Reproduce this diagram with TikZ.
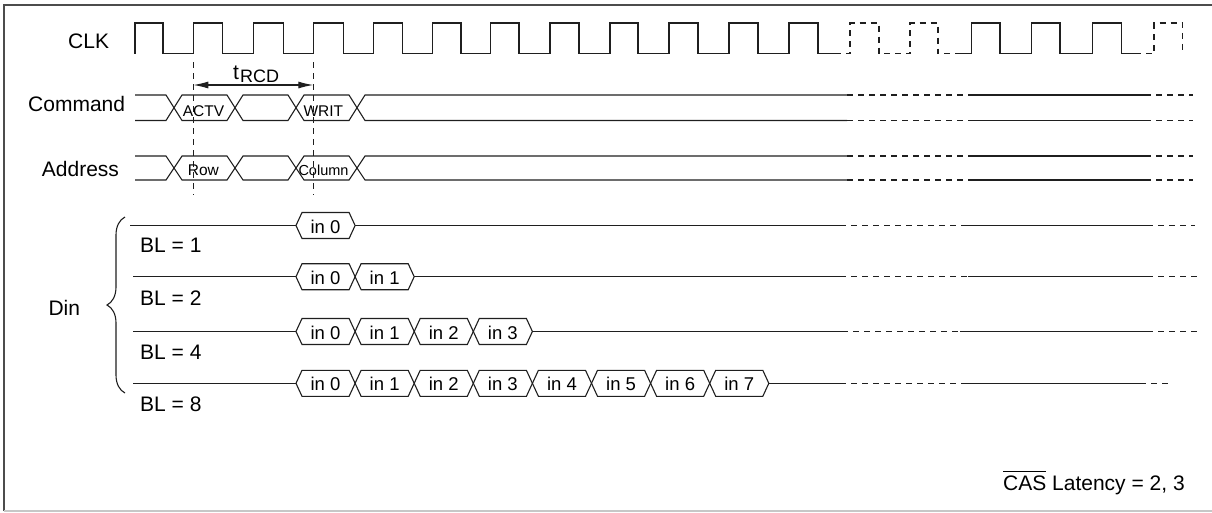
\documentclass[tikz,border=0pt]{standalone}
\usepackage{fontspec}
\setmainfont{Liberation Sans}
\usetikzlibrary{arrows.meta,decorations.pathreplacing}
\newcommand\fsz[1]{\fontsize{#1}{#1}\selectfont}
\newcommand\ovl[1]{\leavevmode\vbox{\hrule height 1.1pt\kern 3.5pt\hbox{#1}}}
\newcommand\tails[5]{%
  \draw[wave] (#2,#1) -- (#3,#1);
  \draw[dsh] (#3,#1) -- (#4,#1);
  \draw[wave] (#4,#1) -- (#5,#1);
}
\newcommand\dinrow[7]{%
  \pgfmathsetmacro\dxe{296+59.1*#3}
  \draw[wave] (#2,#1) -- (296,#1);
  \foreach \k in {1,...,#3} {
    \pgfmathsetmacro\dxa{296+59.1*(\k-1)}
    \pgfmathsetmacro\dxb{\dxa+59.1}
    \pgfmathsetmacro\dxm{\dxa+29.55}
    \pgfmathtruncatemacro\kk{\k-1}
    \draw[wave] (\dxa,#1) -- (\dxa+6,#1-13) -- (\dxb-6,#1-13) -- (\dxb,#1) -- (\dxb-6,#1+13) -- (\dxa+6,#1+13) -- cycle;
    \node[hx] (in#1-\kk) at (\dxm,#1+7.6) {in \kk};
  }
  \draw[wave] (\dxe,#1) -- (#4,#1);
  \draw[dsh] (#4,#1) -- (#5,#1);
  \draw[wave] (#5,#1) -- (#6,#1);
  \draw[dsh] (#6,#1) -- (#7,#1);
}
\begin{document}
\begin{tikzpicture}[x=1pt,y=-1pt,
  wave/.style={line width=1.1pt, black!88, line join=miter},
  dsh/.style={wave, dash pattern=on 6pt off 5pt},
  lbl/.style={inner sep=0pt, anchor=base west, font=\fsz{21}},
  sig/.style={inner sep=0pt, anchor=base west, font=\fsz{15.5}},
  hx/.style={inner sep=0pt, anchor=base, font=\fsz{18.5}}]
\useasboundingbox (0,0) rectangle (1212,512);
% frame
\draw[line width=1.2pt, black!70] (4,511) -- (4,5) -- (1212,5);
\draw[line width=1.2pt, black!22] (4,511) -- (1212,511);

% labels
\node[lbl] (clk) at (68,48.3) {CLK};
\node[lbl] (cmd) at (28,111.7) {Command};
\node[lbl] (addr) at (41.7,176.7) {Address};
\node[lbl] (din) at (48.3,315) {Din};
\node[lbl] (bl1) at (140,252.3) {BL = 1};
\node[lbl] (bl2) at (140,305) {BL = 2};
\node[lbl] (bl4) at (140,359.3) {BL = 4};
\node[lbl] (bl8) at (140,411.7) {BL = 8};
\node[lbl] (cas) at (1003,490) {\ovl{CAS} Latency = 2, 3};

% CLK
\draw[wave] (135,53.5) \foreach \r/\f in {135/163, 193.3/222.7, 253.3/283.3, 313.3/343.3, 373.3/402.7, 432.7/461, 490.7/519, 550/579, 610/638, 669/698, 729/758, 789/818} { -- (\r,53.5) -- (\r,23) -- (\f,23) -- (\f,53.5) } -- (835,53.5);
\draw[dsh] (835,53.5) -- (850,53.5) -- (850,23) -- (879,23) -- (879,53.5) -- (910,53.5) -- (910,23) -- (938,23) -- (938,53.5) -- (958,53.5);
\draw[wave] (958,53.5) \foreach \r/\f in {971.7/1000, 1031.7/1060, 1092.7/1121.7} { -- (\r,53.5) -- (\r,23) -- (\f,23) -- (\f,53.5) } -- (1135,53.5);
\draw[dsh] (1135,53.5) -- (1154,53.5) -- (1154,23) -- (1182.7,23) -- (1182.7,53.5);

% tRCD
\coordinate (ta) at (193.3,85);
\coordinate (tb) at (313.3,85);
\draw[dsh, line width=0.9pt] (193.3,62) -- (193.3,195);
\draw[dsh, line width=0.9pt] (313.3,62) -- (313.3,195);
\draw[wave, {Latex[length=15pt,width=7pt]}-{Latex[length=15pt,width=7pt]}] (ta) -- (tb);
\node[inner sep=0pt, anchor=base west] (trcd) at (233,79) {\fsz{21}t\kern1pt\raisebox{-3pt}{\fsz{18}RCD}};

% Command bus
\foreach \T/\B in {95/120.5, 156/180} {
  \draw[wave] (135,\T) -- (166,\T) -- (182,\B) -- (227,\B) -- (243,\T) -- (288,\T) -- (304,\B) -- (349,\B) -- (365,\T) -- (847,\T);
  \draw[wave] (135,\B) -- (166,\B) -- (182,\T) -- (227,\T) -- (243,\B) -- (288,\B) -- (304,\T) -- (349,\T) -- (365,\B) -- (847,\B);
  \draw[dsh] (847,\T) -- (968,\T);
  \draw[dsh] (847,\B) -- (968,\B);
  \draw[wave] (968,\T) -- (1145,\T);
  \draw[wave] (968,\B) -- (1145,\B);
  \draw[dsh] (1145,\T) -- (1193,\T);
  \draw[dsh] (1145,\B) -- (1193,\B);
}
\node[sig] (actv) at (182.7,116.7) {ACTV};
\node[sig] (writ) at (303.3,116.7) {WRIT};
\node[sig] (row) at (187.7,175) {Row};
\node[sig, font=\fsz{14.5}] (col) at (298.3,175) {Column};

% Din brace
\coordinate (bb) at (125,393);
\coordinate (bt) at (125,217);
\draw[wave, decorate, decoration={brace, amplitude=18pt}] (bb) -- (bt);

% Din rows
\dinrow{225.5}{130}{1}{840}{965}{1147}{1195}
\dinrow{276.7}{133}{2}{840}{968}{1147}{1197}
\dinrow{331.5}{133}{4}{842}{960}{1147}{1197}
\dinrow{383.3}{133}{8}{840}{965}{1140}{1170}
\end{tikzpicture}
\end{document}
